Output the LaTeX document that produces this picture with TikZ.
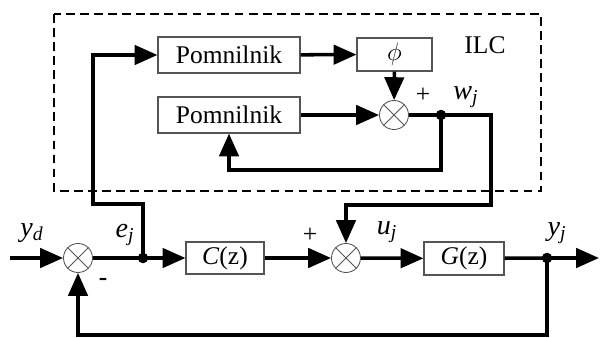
\documentclass[tikz,border=0pt]{standalone}
\usepackage{fontspec}
\setmainfont{Liberation Serif}
\usetikzlibrary{arrows.meta,positioning,calc}
\definecolor{frame}{HTML}{555555}
\newcommand{\sig}[2]{\textit{#1}\textsubscript{\textit{#2}}}
\tikzset{block/.style={draw=frame,line width=.6pt,fill=white,inner sep=0pt},sumnode/.style={draw=frame,circle,line width=.5pt,minimum size=.58cm,inner sep=0pt},wire/.style={draw=black,line width=2pt},dot/.style={circle,fill=black,inner sep=0pt,minimum size=6pt},lbl/.style={font=\fontsize{14.5}{16}\selectfont},every picture/.style={>={Triangle[length=13pt,width=11pt]}}}

\begin{document}
\begin{tikzpicture}[x=0.02cm,y=-0.02cm,lbl]
\useasboundingbox (0,0) rectangle (600,338);
\draw[dash pattern=on 5pt off 3pt,line width=.6pt] (54,14) rectangle (541,191);
\node[lbl] (ilc) at (485,45) {ILC};
% ILC part
\node[block,minimum width=2.84cm,minimum height=.72cm] (p1) at (229,55) {Pomnilnik};
\node[block,minimum width=1.5cm,minimum height=.66cm] (phi) at (394.5,54.5) {$\phi$};
\node[block,minimum width=2.84cm,minimum height=.72cm] (p2) at (229,115) {Pomnilnik};
\node[sumnode] (s1) at (394,115) {};
\coordinate (wj) at (441,115);
% main loop
\coordinate (in) at (10,258);
\node[sumnode] (s3) at (78,258) {};
\coordinate (ej) at (143,258);
\node[block,minimum width=1.56cm,minimum height=.64cm] (C) at (225,258) {\textit{C}(z)};
\node[sumnode] (s2) at (346,258) {};
\node[block,minimum width=1.6cm,minimum height=.66cm] (G) at (464,258.5) {\textit{G}(z)};
\coordinate (yj) at (547,258);
\coordinate (out) at (599,258);
\foreach \s in {s1,s2,s3}{\draw[frame,line width=.5pt] (\s.north east)--(\s.south west) (\s.north west)--(\s.south east);}
% connectors
\draw[wire,->] (in) -- (s3);
\draw[wire] (s3) -- (ej);
\draw[wire,->] (ej) -- (C);
\draw[wire,->] (C) -- (s2);
\draw[wire,->] (s2) -- (G);
\draw[wire] (G) -- (yj);
\draw[wire,->] (yj) -- (out);
\draw[wire,->] (yj) -- (547,335) -| (s3);
\draw[wire,->] (ej) |- (93,204) |- (p1);
\draw[wire,->] (p1) -- (phi);
\draw[wire,->] (phi) -- (s1);
\draw[wire,->] (p2) -- (s1);
\draw[wire] (s1) -- (wj);
\draw[wire,->] (wj) |- (229,170) -- (p2);
\draw[wire,->] (wj) -| (491,205) -| (s2);
\foreach \j in {wj,ej,yj}{\node[dot] at (\j) {};}
% labels
\node[font=\fontsize{16}{18}\selectfont] at (32,233) {\sig{y}{d}};
\node[font=\fontsize{16}{18}\selectfont] at (125,235) {\sig{e}{j}};
\node at (103,282) {\textbf{-}};
\node at (310,235) {+};
\node[font=\fontsize{16}{18}\selectfont] at (387,232) {\sig{u}{j}};
\node[font=\fontsize{16}{18}\selectfont] at (557,233) {\sig{y}{j}};
\node at (423,95) {+};
\node[font=\fontsize{16}{18}\selectfont] at (466,97) {\sig{w}{j}};
\end{tikzpicture}
\end{document}
